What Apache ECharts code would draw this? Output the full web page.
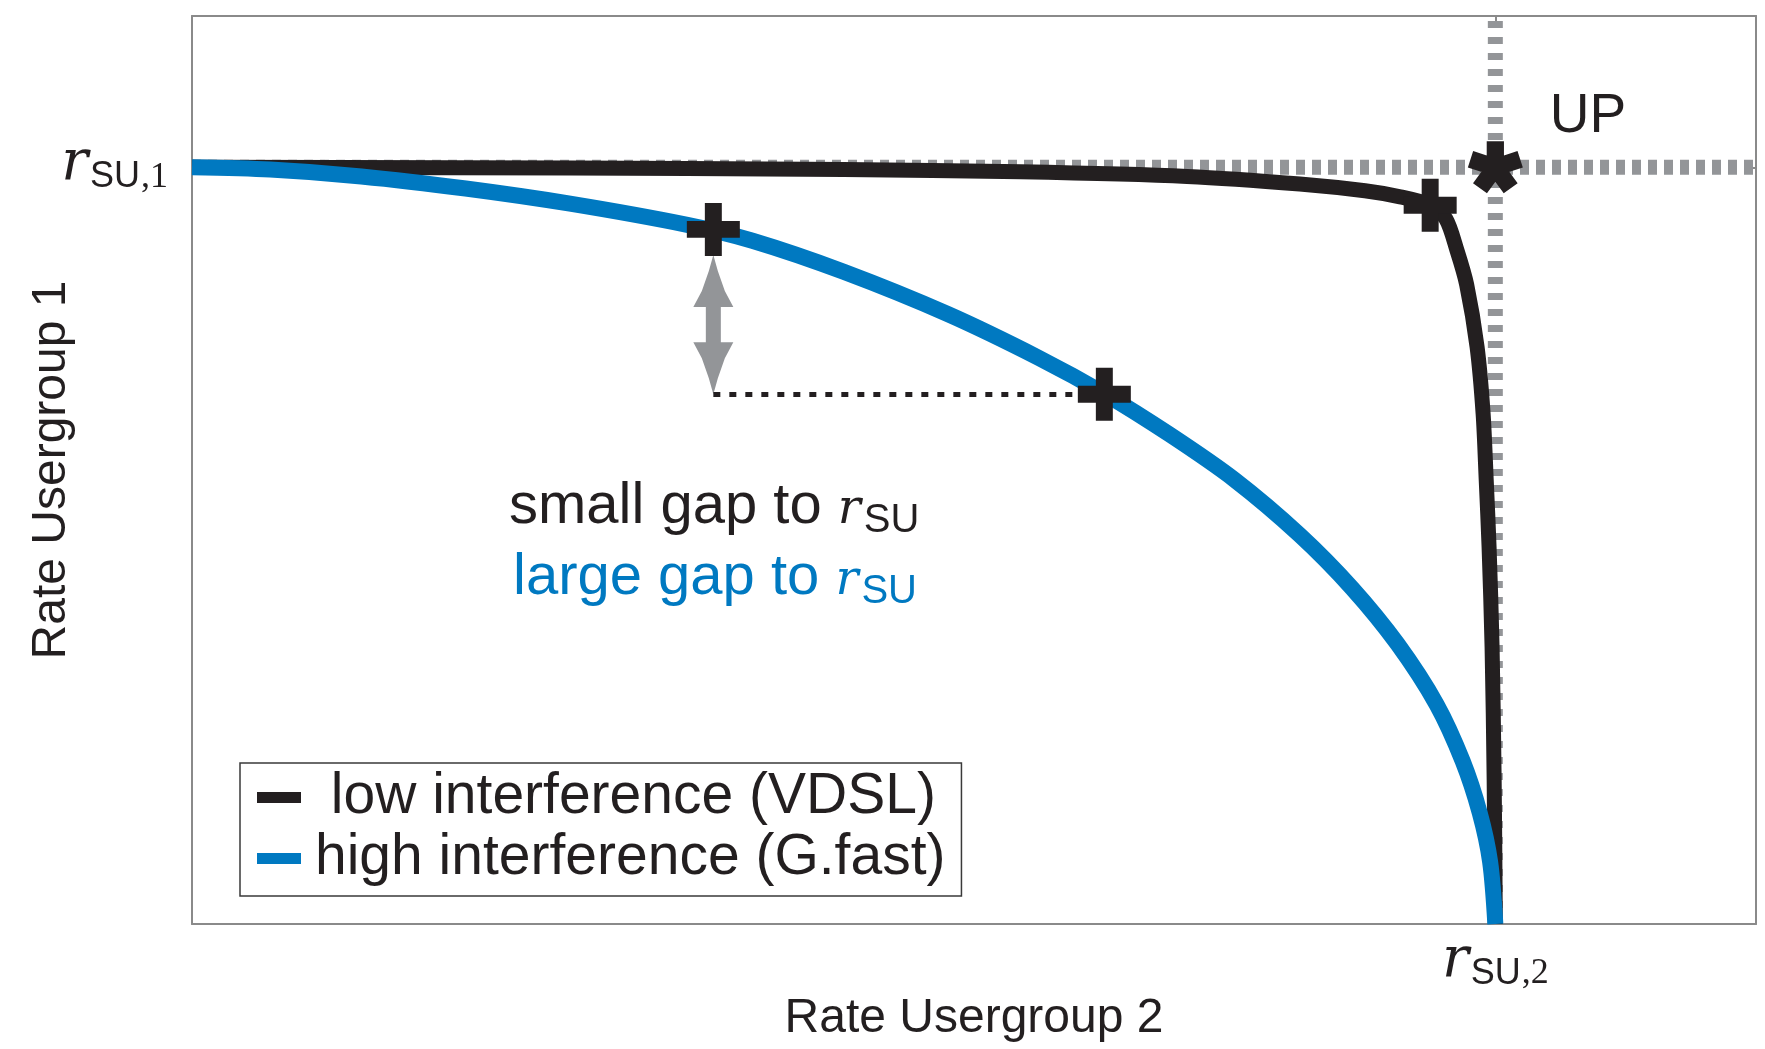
<!DOCTYPE html>
<html>
<head>
<meta charset="utf-8">
<script src="https://cdn.jsdelivr.net/npm/echarts@6/dist/echarts.min.js"></script>
<style>
html,body{margin:0;padding:0;background:#ffffff;}
#chart{width:1765px;height:1049px;}
</style>
</head>
<body>
<div id="chart"></div>
<script>
// ---------------- data ----------------
const seriesNames = [' low interference (VDSL)', 'high interference (G.fast)'];

// low interference (VDSL) rate region boundary
const lowX = [0, 0.2, 0.38, 0.5, 0.636, 0.7635, 0.85, 0.90, 0.927, 0.950, 0.962, 0.9706, 0.978, 0.986, 0.9906, 0.993, 0.9952, 0.9975, 0.9991, 1.0];
const lowY = [1.0, 0.9995, 0.9985, 0.997, 0.994, 0.988, 0.978, 0.969, 0.961, 0.950, 0.932, 0.890, 0.845, 0.7625, 0.675, 0.587, 0.498, 0.366, 0.190, 0.0];

// high interference (G.fast) rate region boundary
const highX = [0, 0.06, 0.13, 0.21, 0.29, 0.38, 0.43, 0.50, 0.58, 0.65, 0.70, 0.75, 0.80, 0.85, 0.89, 0.925, 0.955, 0.975, 0.988, 0.996, 1.0];
const highY = [1.0, 0.997, 0.988, 0.972, 0.952, 0.924, 0.903, 0.862, 0.806, 0.748, 0.701, 0.647, 0.587, 0.514, 0.444, 0.370, 0.290, 0.215, 0.147, 0.082, 0.0];

const crossHigh = [[0.40, 0.918], [0.70, 0.70]];
const crossLow = [[0.95, 0.95]];
const upPoint = [[1, 1]];
const upLabel = 'UP';

const axisMax = 1.2;
const refHoriz = [[0, 1], [1.2, 1]];   // r_SU,1 level
const refVert = [[1, 0], [1, 1.2]];    // r_SU,2 level

const gapArrow = [[0.40, 0.884, 0.70]]; // x, top, bottom
const gapLine = [[0.40, 0.70], [0.70, 0.70]];

const xTickValues = [1];
const yTickValues = [1];
const xTickLabel = ['r', 'SU', ',2'];
const yTickLabel = ['r', 'SU', ',1'];
const xName = 'Rate Usergroup 2';
const yName = 'Rate Usergroup 1';
const note1 = ['small gap to ', 'r', 'SU'];
const note2 = ['large gap to ', 'r', 'SU'];

// ---------------- styles ----------------
const BLACK = '#231f20';
const BLUE = '#0079c1';
const GRAY = '#939598';
const FRAME = '#8a8a8a';
const SANS = 'Liberation Sans, Arial, Helvetica, sans-serif';
const SERIF = 'Liberation Serif, Times New Roman, serif';
const MATH = 'DejaVu Serif, Liberation Serif, serif';

const CROSS = 'path://M-0.32,-1 L0.32,-1 L0.32,-0.32 L1,-0.32 L1,0.32 L0.32,0.32 L0.32,1 L-0.32,1 L-0.32,0.32 L-1,0.32 L-1,-0.32 L-0.32,-0.32 Z';
const STAR = 'path://M0.33,0 L0.33,-1 L-0.33,-1 L-0.33,0 Z ' +
  'M0.102,0.3139 L1.0531,0.0049 L0.8491,-0.6229 L-0.102,-0.3139 Z ' +
  'M-0.267,0.194 L0.3208,1.003 L0.8548,0.615 L0.267,-0.194 Z ' +
  'M-0.267,-0.194 L-0.8548,0.615 L-0.3208,1.003 L0.267,0.194 Z ' +
  'M0.102,-0.3139 L-0.8491,-0.6229 L-1.0531,0.0049 L-0.102,0.3139 Z';

const tickRich = {
  r: {fontFamily: MATH, fontStyle: 'italic', fontSize: 56, lineHeight: 56, verticalAlign: 'bottom', color: BLACK, padding: [0, 0, 3, 0]},
  s: {fontFamily: SANS, fontSize: 36, verticalAlign: 'bottom', color: BLACK, padding: [0, 0, 0, 2]},
  c: {fontFamily: SERIF, fontSize: 36, verticalAlign: 'bottom', color: BLACK, padding: [0, 0, 0, 1]}
};
function tickText(parts) {
  return '{r|' + parts[0] + '}{s|' + parts[1] + '}{c|' + parts[2] + '}';
}
function noteRich(color) {
  return {
    a: {fontFamily: SANS, fontSize: 58, verticalAlign: 'bottom', fill: color, padding: [0, 0, 5, 0]},
    r: {fontFamily: MATH, fontStyle: 'italic', fontSize: 48, verticalAlign: 'bottom', fill: color, padding: [0, 0, 6.5, 0]},
    s: {fontFamily: SANS, fontSize: 40, verticalAlign: 'bottom', fill: color, padding: [0, 0, 0, 3]}
  };
}
function noteText(parts) {
  return '{a|' + parts[0] + '}{r|' + parts[1] + '}{s|' + parts[2] + '}';
}

const pairs = (xs, ys) => xs.map((x, i) => [x, ys[i]]);

const chart = echarts.init(document.getElementById('chart'), null, {renderer: 'canvas'});

const option = {
  animation: false,
  backgroundColor: '#ffffff',
  textStyle: {fontFamily: SANS},
  grid: {left: 192, right: 9, top: 16, bottom: 125, containLabel: false, outerBoundsMode: 'none'},
  xAxis: [
    {
      type: 'value', min: 0, max: axisMax, interval: 1, position: 'bottom',
      axisLine: {show: true, onZero: false, lineStyle: {color: FRAME, width: 2}},
      axisTick: {show: true, inside: true, length: 9, customValues: xTickValues, lineStyle: {color: FRAME, width: 2}},
      axisLabel: {
        show: true, customValues: xTickValues, margin: 12, rich: tickRich,
        formatter: v => (Math.abs(v - 1) < 1e-9 ? tickText(xTickLabel) : '')
      },
      splitLine: {show: false},
      name: xName, nameLocation: 'middle', nameGap: 71, nameMoveOverlap: false,
      nameTextStyle: {fontFamily: SANS, fontSize: 48, lineHeight: 48, color: BLACK}
    },
    {
      type: 'value', min: 0, max: axisMax, interval: 1, position: 'top',
      axisLine: {show: true, onZero: false, lineStyle: {color: FRAME, width: 2}},
      axisTick: {show: true, inside: true, length: 9, customValues: xTickValues, lineStyle: {color: FRAME, width: 2}},
      axisLabel: {show: false},
      splitLine: {show: false}
    }
  ],
  yAxis: [
    {
      type: 'value', min: 0, max: axisMax, interval: 1, position: 'left',
      axisLine: {show: true, onZero: false, lineStyle: {color: FRAME, width: 2}},
      axisTick: {show: true, inside: true, length: 9, customValues: yTickValues, lineStyle: {color: FRAME, width: 2}},
      axisLabel: {
        show: true, customValues: yTickValues, margin: 24, rich: tickRich,
        formatter: v => (Math.abs(v - 1) < 1e-9 ? tickText(yTickLabel) : '')
      },
      splitLine: {show: false},
      name: yName, nameLocation: 'middle', nameGap: 116, nameMoveOverlap: false,
      nameTextStyle: {fontFamily: SANS, fontSize: 48, lineHeight: 48, color: BLACK}
    },
    {
      type: 'value', min: 0, max: axisMax, interval: 1, position: 'right',
      axisLine: {show: true, onZero: false, lineStyle: {color: FRAME, width: 2}},
      axisTick: {show: true, inside: true, length: 9, customValues: yTickValues, lineStyle: {color: FRAME, width: 2}},
      axisLabel: {show: false},
      splitLine: {show: false}
    }
  ],
  legend: {
    show: true, orient: 'vertical', left: 240, top: 763,
    padding: [6, 16, 9, 17],
    backgroundColor: '#ffffff', borderColor: '#3a3a3a', borderWidth: 1.5,
    itemWidth: 44, itemHeight: 11, itemGap: 4,
    icon: 'rect',
    itemStyle: {borderWidth: 0},
    selectedMode: false,
    textStyle: {fontFamily: SANS, fontSize: 57, lineHeight: 57, color: BLACK, padding: [0, 0, 0, 9]},
    data: seriesNames
  },
  graphic: [
    {
      type: 'text', x: 509, y: 478, silent: true, z: 10,
      style: {text: noteText(note1), rich: noteRich(BLACK), verticalAlign: 'top', align: 'left'}
    },
    {
      type: 'text', x: 513, y: 549, silent: true, z: 10,
      style: {text: noteText(note2), rich: noteRich(BLUE), verticalAlign: 'top', align: 'left'}
    }
  ],
  series: [
    {
      name: 'refH', type: 'line', data: refHoriz, showSymbol: false, silent: true, z: 1,
      lineStyle: {color: GRAY, width: 15, type: [9, 7]},
      markLine: {
        silent: true, symbol: ['none', 'none'], label: {show: false}, animation: false,
        lineStyle: {color: BLACK, width: 5, type: [7, 9]},
        emphasis: {disabled: true},
        data: [[{coord: gapLine[0]}, {coord: gapLine[1]}]]
      }
    },
    {
      name: 'refV', type: 'line', data: refVert, showSymbol: false, silent: true, z: 1,
      lineStyle: {color: GRAY, width: 15, type: [7, 9]}
    },
    {
      name: seriesNames[0], type: 'line', data: pairs(lowX, lowY),
      showSymbol: false, smooth: 0.3, silent: true, z: 2,
      color: BLACK, itemStyle: {color: BLACK},
      lineStyle: {color: BLACK, width: 15, join: 'round'}
    },
    {
      name: seriesNames[1], type: 'line', data: pairs(highX, highY),
      showSymbol: false, smooth: 0.3, silent: true, z: 3,
      color: BLUE, itemStyle: {color: BLUE},
      lineStyle: {color: BLUE, width: 16, join: 'round'}
    },
    {
      name: 'gapArrow', type: 'custom', data: gapArrow, silent: true, z: 4,
      encode: {x: 0, y: [1, 2]},
      renderItem: function (params, api) {
        const t = api.coord([api.value(0), api.value(1)]);
        const b = api.coord([api.value(0), api.value(2)]);
        const x = t[0], ty = t[1], by = b[1];
        const hw = 20, sw = 7.5, hl = 52;
        const pts = [
          [x, ty], [x + 4.5, ty + 16], [x + 11.5, ty + 36], [x + hw, ty + hl], [x + sw, ty + hl],
          [x + sw, by - hl], [x + hw, by - hl], [x + 11.5, by - 36], [x + 4.5, by - 16], [x, by],
          [x - 4.5, by - 16], [x - 11.5, by - 36], [x - hw, by - hl], [x - sw, by - hl],
          [x - sw, ty + hl], [x - hw, ty + hl], [x - 11.5, ty + 36], [x - 4.5, ty + 16]
        ];
        return {type: 'polygon', shape: {points: pts}, style: {fill: GRAY}};
      }
    },
    {
      name: 'crossHigh', type: 'scatter', data: crossHigh, silent: true, z: 6,
      symbol: CROSS, symbolSize: 53, itemStyle: {color: BLACK, opacity: 1}
    },
    {
      name: 'crossLow', type: 'scatter', data: crossLow, silent: true, z: 6,
      symbol: CROSS, symbolSize: 53, itemStyle: {color: BLACK, opacity: 1}
    },
    {
      name: 'up', type: 'scatter', data: upPoint, silent: true, z: 6,
      symbol: STAR, symbolSize: [55, 52], itemStyle: {color: BLACK, opacity: 1},
      label: {
        show: true, formatter: upLabel, position: 'right', distance: 27, offset: [0, -51],
        fontFamily: SANS, fontSize: 55, color: BLACK, opacity: 1
      }
    }
  ]
};

chart.setOption(option);
</script>
</body>
</html>
